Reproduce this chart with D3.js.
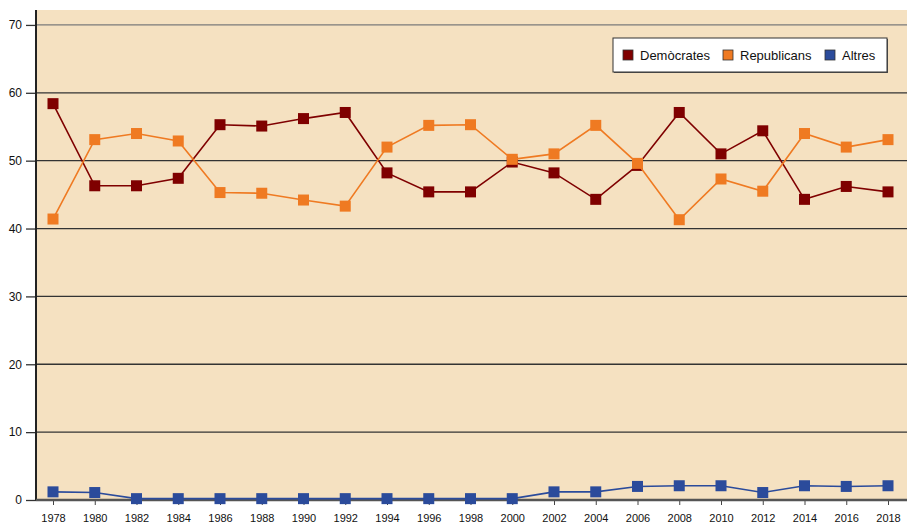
<!DOCTYPE html>
<html>
<head>
<meta charset="utf-8">
<script src="https://cdn.jsdelivr.net/npm/d3@7/dist/d3.min.js"></script>
<style>
  body { margin: 0; background: #fff; }
  svg text { font-family: "Liberation Sans", Arial, sans-serif; fill: #111; }
</style>
</head>
<body>
<div class="chart"></div>
<script>
// Data
let years = ["1978","1980","1982","1984","1986","1988","1990","1992","1994","1996","1998",
  "2000","2002","2004","2006","2008","2010","2012","2014","2016","2018"];
let democrates = [58.4, 46.3, 46.3, 47.4, 55.3, 55.1, 56.2, 57.1, 48.2, 45.4, 45.4,
  49.8, 48.2, 44.3, 49.3, 57.1, 51.0, 54.4, 44.3, 46.2, 45.4];
let republicans = [41.4, 53.1, 54.0, 52.9, 45.3, 45.2, 44.2, 43.3, 52.0, 55.2, 55.3,
  50.2, 51.0, 55.2, 49.6, 41.3, 47.3, 45.5, 54.0, 52.0, 53.1];
let altres = [1.2, 1.1, 0.2, 0.2, 0.2, 0.2, 0.2, 0.2, 0.2, 0.2, 0.2,
  0.2, 1.2, 1.2, 2.0, 2.1, 2.1, 1.1, 2.1, 2.0, 2.1];
let yTicks = [0, 10, 20, 30, 40, 50, 60, 70];

let series = [
  {name: "Demòcrates", values: democrates, color: "#7f0000"},
  {name: "Republicans", values: republicans, color: "#ef7a22"},
  {name: "Altres", values: altres, color: "#2b4b9b"}
];

let svgWidth = 907;
let svgHeight = 524;
let margin = {top: 10, right: 0, bottom: 24, left: 36};
let width = svgWidth - margin.left - margin.right;
let height = svgHeight - margin.top - margin.bottom;

let svg = d3.select(".chart").append("svg")
  .attr("width", svgWidth).attr("height", svgHeight);

let chartGroup = svg.append("g")
  .attr("transform", `translate(${margin.left}, ${margin.top})`);

// scales
let xScale = d3.scalePoint().domain(years).range([17, 852]);
let yScale = d3.scaleLinear().domain([0, 72.2]).range([height, 0]);

// plot background
chartGroup.append("rect")
  .attr("width", width).attr("height", height)
  .attr("fill", "#f5e1c1");

// gridlines
chartGroup.selectAll(".grid")
  .data(yTicks.filter(d => d > 0))
  .enter().append("line")
  .attr("x1", 0).attr("x2", width)
  .attr("y1", d => yScale(d)).attr("y2", d => yScale(d))
  .attr("stroke", d => d == 70 ? "#7a7a7a" : "#333")
  .attr("stroke-width", 1.3);

// y axis
let leftAxis = d3.axisLeft(yScale).tickValues(yTicks).tickSize(10).tickPadding(4);
let yAxisG = chartGroup.append("g").call(leftAxis);
yAxisG.select(".domain").remove();
yAxisG.selectAll(".tick line").attr("stroke", "#333").attr("stroke-width", 1.3);
yAxisG.selectAll("text").style("font-size", "12px").attr("fill", "#111");
chartGroup.append("line")
  .attr("x1", 0).attr("x2", 0).attr("y1", 0).attr("y2", height)
  .attr("stroke", "#222").attr("stroke-width", 2);

// x axis
let bottomAxis = d3.axisBottom(xScale).tickSize(5).tickPadding(9);
let xAxisG = chartGroup.append("g")
  .attr("transform", `translate(0, ${height})`)
  .call(bottomAxis);
xAxisG.select(".domain").remove();
xAxisG.selectAll(".tick line").attr("stroke", "#444");
xAxisG.selectAll("text").style("font-size", "11px").attr("fill", "#111");
chartGroup.append("line")
  .attr("x1", 0).attr("x2", width).attr("y1", height).attr("y2", height)
  .attr("stroke", "#555").attr("stroke-width", 2.5);

// lines and markers
let line = d3.line()
  .x((d, i) => xScale(years[i]))
  .y(d => yScale(d));

series.forEach(function(s) {
  chartGroup.append("path")
    .datum(s.values)
    .attr("fill", "none")
    .attr("stroke", s.color)
    .attr("stroke-width", 1.6)
    .attr("d", line);

  chartGroup.selectAll(null)
    .data(s.values)
    .enter().append("rect")
    .attr("x", (d, i) => xScale(years[i]) - 5.5)
    .attr("y", d => yScale(d) - 5.5)
    .attr("width", 11).attr("height", 11)
    .attr("fill", s.color);
});

// legend
let legend = svg.append("g").attr("transform", "translate(613, 38)");
legend.append("rect")
  .attr("x", 1).attr("y", 1).attr("width", 274).attr("height", 34)
  .attr("fill", "#555");
legend.append("rect")
  .attr("width", 274).attr("height", 34)
  .attr("fill", "#fff").attr("stroke", "#333").attr("stroke-width", 1);

let legendX = [10, 110, 212];
series.forEach(function(s, i) {
  legend.append("rect")
    .attr("x", legendX[i]).attr("y", 12)
    .attr("width", 10).attr("height", 10)
    .attr("fill", s.color).attr("stroke", "#333").attr("stroke-width", 0.8);
  legend.append("text")
    .attr("x", legendX[i] + 17).attr("y", 22)
    .style("font-size", "13px")
    .text(s.name);
});
</script>
</body>
</html>
